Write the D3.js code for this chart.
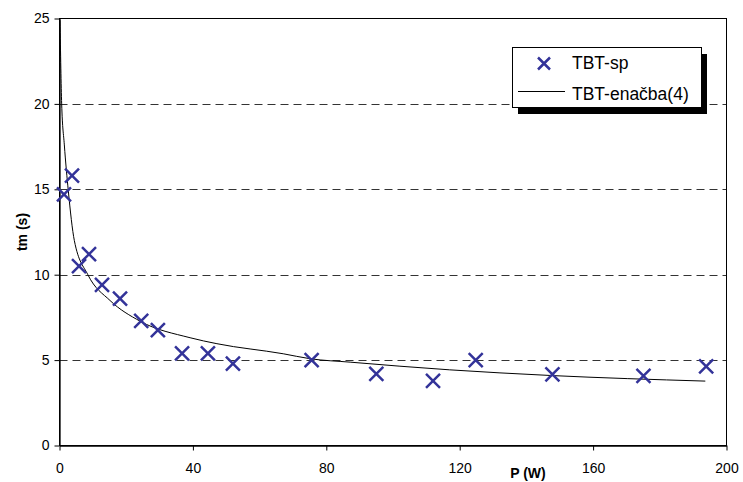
<!DOCTYPE html>
<html lang="sl">
<head>
    <meta charset="UTF-8">
    <title>TBT</title>
    <script src="https://d3js.org/d3.v7.min.js"></script>
    <style>
        body {
            margin: 0;
            padding: 0;
            background: #fff;
        }

        #tbt-chart text {
            font-family: "Liberation Sans", Arial, sans-serif;
        }
    </style>
</head>
<body>
<svg id="tbt-chart" width="743" height="482" xmlns="http://www.w3.org/2000/svg"></svg>
<script>
    // measured points (TBT-sp)
    var spP = [1.35, 3.75, 5.85, 8.85, 12.75, 18.15, 24.5, 29.5, 36.75, 44.5, 52, 75.6, 95, 112, 124.8, 147.8, 175.1, 193.9];
    var spTm = [14.7, 15.8, 10.5, 11.2, 9.4, 8.6, 7.3, 6.75, 5.4, 5.4, 4.8, 5.0, 4.2, 3.78, 5.0, 4.16, 4.07, 4.63];

    // curve (TBT-enačba(4))
    var eqP = [0.15, 0.65, 1.45, 2.65, 4.45, 8.5, 15.15, 24.15, 39.15, 47.2, 67.1, 75.15, 87.15, 117, 147.15, 193.65];
    var eqTm = [24.9, 20, 17.6, 14.9, 12.0, 10.0, 8.49, 7.28, 6.31, 5.96, 5.37, 5.08, 4.88, 4.43, 4.1, 3.77];

    var xTicks = [0, 40, 80, 120, 160, 200];
    var yTicks = [0, 5, 10, 15, 20, 25];
    var gridTicks = [5, 10, 15, 20];
    var legendLabels = ['TBT-sp', 'TBT-enačba(4)'];

    (function () {
        var svg = d3.select('#tbt-chart');
        var pl = 59.5, pr = 726.5, pt = 18.5, pb = 445.5;

        var x = d3.scaleLinear().domain([0, 200]).range([pl, pr]);
        var y = d3.scaleLinear().domain([0, 25]).range([pb, pt]);

        // dashed grid
        svg.append('g')
            .selectAll('line')
            .data(gridTicks)
            .enter().append('line')
            .attr('x1', pl).attr('x2', pr)
            .attr('y1', function (d) { return Math.round(y(d)) + 0.5; })
            .attr('y2', function (d) { return Math.round(y(d)) + 0.5; })
            .attr('stroke', '#333')
            .attr('stroke-dasharray', '8,5');

        // frame
        svg.append('rect')
            .attr('x', pl).attr('y', pt)
            .attr('width', pr - pl).attr('height', pb - pt)
            .attr('fill', 'none').attr('stroke', '#000');

        var xAxis = svg.append('g')
            .attr('transform', 'translate(0,' + pb + ')')
            .call(d3.axisBottom(x).tickValues(xTicks).tickSize(5).tickPadding(13).tickSizeOuter(0));
        var yAxis = svg.append('g')
            .attr('transform', 'translate(' + pl + ',0)')
            .call(d3.axisLeft(y).tickValues(yTicks).tickSize(5).tickPadding(5).tickSizeOuter(0));

        [xAxis, yAxis].forEach(function (ax) {
            ax.select('.domain').attr('stroke', '#000').attr('stroke-width', 1.3);
            ax.selectAll('.tick line').attr('stroke', '#000');
            ax.selectAll('.tick text')
                .attr('font-size', '14px')
                .attr('fill', '#000')
                .attr('font-family', '"Liberation Sans", Arial, sans-serif');
        });

        // axis titles
        svg.append('text')
            .attr('x', 528).attr('y', 478)
            .attr('text-anchor', 'middle')
            .attr('font-size', '14px').attr('font-weight', 'bold')
            .text('P (W)');
        svg.append('text')
            .attr('transform', 'translate(27,232) rotate(-90)')
            .attr('text-anchor', 'middle')
            .attr('font-size', '14px').attr('font-weight', 'bold')
            .text('tm (s)');

        // fitted curve
        var line = d3.line()
            .x(function (d) { return x(d[0]); })
            .y(function (d) { return y(d[1]); })
            .curve(d3.curveMonotoneX);
        svg.append('path')
            .datum(d3.zip(eqP, eqTm))
            .attr('d', line)
            .attr('fill', 'none')
            .attr('stroke', '#000')
            .attr('stroke-width', 1);

        // X markers
        var cross = function (s) {
            return 'M' + (-s) + ',' + (-s) + 'L' + s + ',' + s + 'M' + (-s) + ',' + s + 'L' + s + ',' + (-s);
        };
        svg.append('g')
            .selectAll('path')
            .data(d3.zip(spP, spTm))
            .enter().append('path')
            .attr('transform', function (d) { return 'translate(' + x(d[0]) + ',' + y(d[1]) + ')'; })
            .attr('d', cross(7))
            .attr('fill', 'none')
            .attr('stroke', '#333399')
            .attr('stroke-width', 2.5);

        // legend
        var lg = svg.append('g');
        lg.append('rect')
            .attr('x', 518).attr('y', 54).attr('width', 189).attr('height', 60)
            .attr('fill', '#000');
        lg.append('rect')
            .attr('x', 512.5).attr('y', 47.5).attr('width', 189).attr('height', 60)
            .attr('fill', '#fff').attr('stroke', '#000');
        lg.append('path')
            .attr('transform', 'translate(544,63.5)')
            .attr('d', cross(6))
            .attr('fill', 'none')
            .attr('stroke', '#333399')
            .attr('stroke-width', 2.5);
        lg.append('line')
            .attr('x1', 518).attr('x2', 565)
            .attr('y1', 91.5).attr('y2', 91.5)
            .attr('stroke', '#000');
        lg.selectAll('text.lab')
            .data(legendLabels)
            .enter().append('text')
            .attr('class', 'lab')
            .attr('x', 572)
            .attr('y', function (d, i) { return 68.5 + i * 31.5; })
            .attr('font-size', '17.5px')
            .text(function (d) { return d; });
    })();
</script>
</body>
</html>
